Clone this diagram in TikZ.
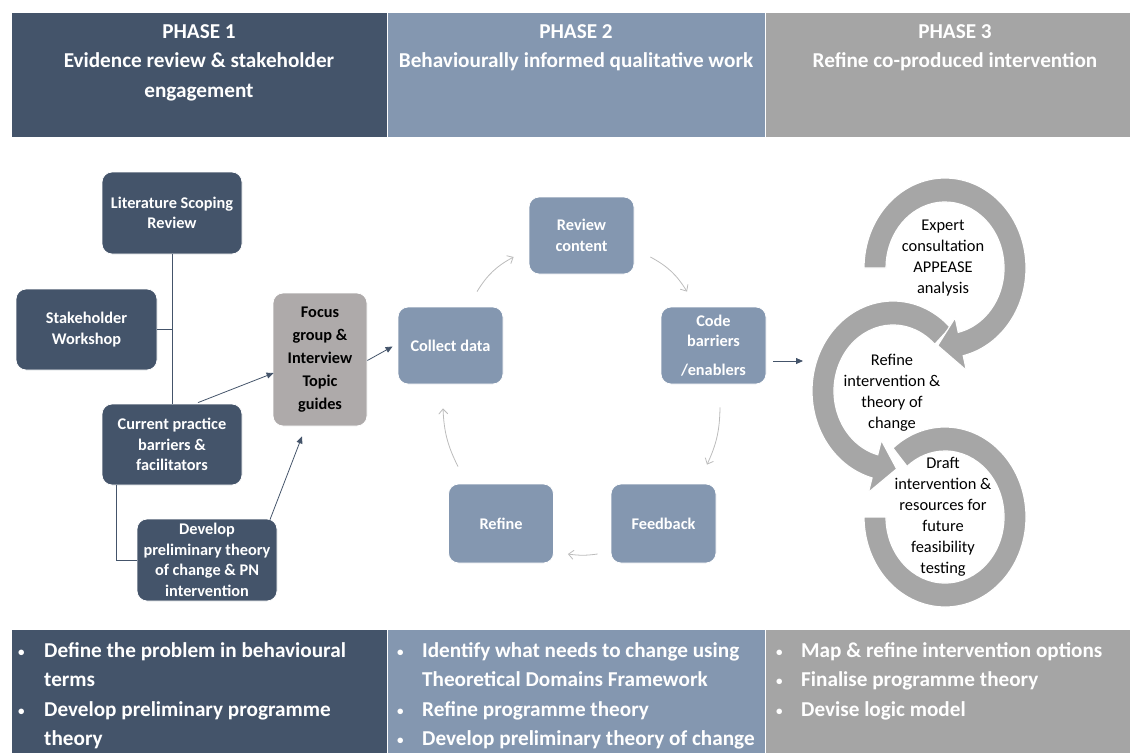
\documentclass[tikz,border=0pt]{standalone}
\usepackage{fontspec}
\setmainfont{Carlito}
\usetikzlibrary{arrows.meta,calc}
\definecolor{dk}{HTML}{44546A}
\definecolor{lb}{HTML}{8497B0}
\definecolor{gr}{HTML}{A5A5A5}
\definecolor{fg}{HTML}{AEAAAA}
\definecolor{ringc}{HTML}{A6A6A6}
\definecolor{thinc}{HTML}{BCBCBC}
\newcommand{\bulw}[1]{\makebox[#1][l]{\raisebox{1pt}{\fontsize{13}{13}\selectfont\textbullet}}}
\begin{document}
\begin{tikzpicture}[x=1pt,y=1pt,
  panel/.style={draw=white,line width=0.8pt},
  headtxt/.style={text=white,font=\fontsize{21.2}{29.5}\selectfont\bfseries,align=center,inner sep=0pt,anchor=north},
  bultxt/.style={text=white,font=\fontsize{21.2}{29.5}\selectfont\bfseries,inner sep=0pt,anchor=north west},
  boxbase/.style={rounded corners=10pt,draw=white,line width=0.8pt,align=center,inner sep=0pt,
     font=\fontsize{16.3}{20.5}\selectfont\bfseries},
  darkbox/.style={boxbase,fill=dk,text=white,minimum width=140pt,minimum height=81pt},
  bluebox/.style={boxbase,fill=lb,text=white,minimum width=105pt,minimum height=77pt},
  greybox/.style={boxbase,fill=fg,text=black,minimum width=94pt,minimum height=133pt,font=\fontsize{16.3}{23}\selectfont\bfseries},
  ringtxt/.style={align=center,inner sep=0pt,font=\fontsize{16.4}{21}\selectfont,text=black},
  link/.style={draw=dk,line width=0.8pt},
  darrow/.style={link,-{Triangle[length=7pt,width=6pt]}},
  cyc/.style={draw=thinc,line width=0.8pt,-{Straight Barb[length=5pt,width=9pt]}},
  ringfill/.style={fill=ringc,draw=white,line width=1.2pt,line join=miter}
]
\useasboundingbox (0,0) rectangle (1130,-753);

% header panels
\fill[dk,panel] (11,-12) rectangle (387,-137);
\fill[lb,panel] (387,-12) rectangle (765,-137);
\fill[gr,panel] (765,-12) rectangle (1130,-137);
\node[headtxt] (h1) at (199,-24) {PHASE 1\\Evidence review \& stakeholder\\engagement};
\node[headtxt] (h2) at (576,-24) {PHASE 2\\Behaviourally informed qualitative work};
\node[headtxt] (h3) at (955,-24) {PHASE 3\\Refine co-produced intervention};

% bottom panels
\fill[dk,panel] (11,-629) rectangle (387,-753);
\fill[lb,panel] (387,-629) rectangle (765,-753);
\fill[gr,panel] (765,-629) rectangle (1130,-753);
\node[bultxt] (b1) at (18,-636.5) {\begin{tabular}{@{}l@{}l@{}}
\bulw{26pt} & Define the problem in behavioural\\
 & terms\\
\bulw{26pt} & Develop preliminary programme\\
 & theory
\end{tabular}};
\node[bultxt] (b2) at (397,-636.5) {\begin{tabular}{@{}l@{}l@{}}
\bulw{25pt} & Identify what needs to change using\\
 & Theoretical Domains Framework\\
\bulw{25pt} & Refine programme theory\\
\bulw{25pt} & Develop preliminary theory of change
\end{tabular}};
\node[bultxt] (b3) at (776,-636.5) {\begin{tabular}{@{}l@{}l@{}}
\bulw{25pt} & Map \& refine intervention options\\
\bulw{25pt} & Finalise programme theory\\
\bulw{25pt} & Devise logic model
\end{tabular}};

% phase 1 nodes
\node[darkbox,minimum height=82pt] (lit) at (172,-213) {Literature Scoping\\Review};
\node[darkbox,minimum width=141pt] (stake) at (86.5,-329.5) {Stakeholder\\Workshop};
\node[darkbox] (curr) at (172,-444.5) {Current practice\\barriers \&\\facilitators};
\node[darkbox,minimum height=82pt] (dev) at (207,-560) {Develop\\preliminary theory\\of change \& PN\\intervention};
\node[greybox] (focus) at (320,-359.5) {Focus\\group \&\\Interview\\Topic\\guides};

\draw[link] (lit.south) -- (curr.north);
\draw[link] (stake.east) -- (stake.east -| lit.south);
\draw[link] ($(curr.south)+(-56,0)$) |- (dev.west);
\draw[darrow] ($(curr.north)+(26,1)$) -- ($(focus.west)+(1,-13.5)$);
\draw[darrow] ($(dev.north)+(63,-1)$) -- ($(focus.south)+(-18,-10)$);

% phase 2 cycle
\node[bluebox] (collect) at (450.5,-345.5) {Collect data};
\node[bluebox] (review) at (581.5,-235.5) {Review\\content};
\node[bluebox] (code) at (713.5,-345.5) {Code\\barriers\\[8pt]/enablers};
\node[bluebox,minimum height=79pt] (feedback) at (663.5,-523.5) {Feedback};
\node[bluebox,minimum height=79pt] (refine) at (501,-523.5) {Refine};

\draw[darrow] ($(focus.east)+(0,-1)$) -- ($(collect.west)+(-5,-1)$);
\draw[cyc] ($(collect.north)+(26.5,15)$) to[bend left=15] ($(review.west)+(-15,-21.5)$);
\draw[cyc] ($(review.east)+(16,-21.5)$) to[bend left=15] ($(code.north)+(-26.5,15)$);
\draw[cyc] ($(code.south)+(6.5,-23)$) to[bend left=12] ($(feedback.north)+(43.5,19)$);
\draw[cyc] ($(feedback.west)+(-13,-30.5)$) to[bend left=8] ($(refine.east)+(14,-30.5)$);
\draw[cyc] ($(refine.north)+(-43,17)$) to[bend left=12] ($(collect.south)+(-7.5,-24)$);

\coordinate (ringin) at (803,-361);
\draw[darrow] ($(code.east)+(7,-15.5)$) -- (ringin);

% phase 3 circular arrows
\coordinate (T) at (945,-268);
\coordinate (M) at (893,-391);
\coordinate (B) at (945,-517);
% bottom ring
\path[ringfill] ($(B)+(130:81 and 90)$) arc[start angle=130,end angle=-180,x radius=81,y radius=90]
  -- ($(B)+(180:59 and 66)$) arc[start angle=-180,end angle=130,x radius=59,y radius=66] -- cycle;
% middle ring
\path[ringfill] ($(M)+(45:81 and 90)$) arc[start angle=45,end angle=255,x radius=81,y radius=90]
  -- ($(M)+(255:95 and 105)$) -- ($(M)+(273:70 and 78)$) -- ($(M)+(255:45 and 51)$)
  -- ($(M)+(255:59 and 66)$) arc[start angle=255,end angle=45,x radius=59,y radius=66] -- cycle;
% top ring
\path[ringfill] ($(T)+(180:81 and 90)$) arc[start angle=180,end angle=-77,x radius=81,y radius=90]
  -- ($(T)+(-77:95 and 105)$) -- ($(T)+(-96:70 and 78)$) -- ($(T)+(-77:45 and 51)$)
  -- ($(T)+(-77:59 and 66)$) arc[start angle=-77,end angle=180,x radius=59,y radius=66] -- cycle;

\node[ringtxt] (expert) at (943,-258) {Expert\\consultation\\APPEASE\\analysis};
\node[ringtxt] (refint) at (892,-393) {Refine\\intervention \&\\theory of\\change};
\node[ringtxt] (draft) at (943,-517) {Draft\\intervention \&\\resources for\\future\\feasibility\\testing};
\end{tikzpicture}
\end{document}
